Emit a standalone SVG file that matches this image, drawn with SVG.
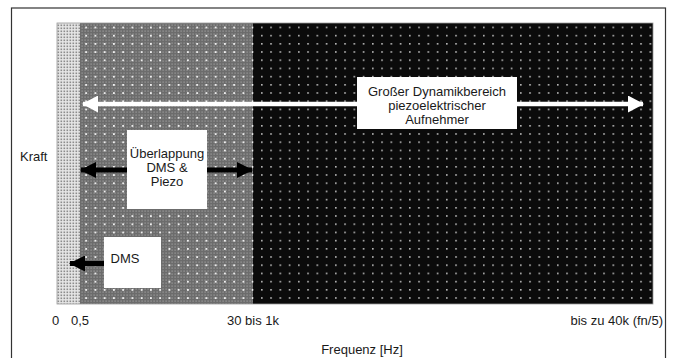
<svg xmlns="http://www.w3.org/2000/svg" width="674" height="358" viewBox="0 0 674 358">
<defs>
<pattern id="pLight" patternUnits="userSpaceOnUse" width="3" height="3">
<rect width="3" height="3" fill="#e6e6e6"/>
<rect x="0.5" y="0.5" width="1.6" height="1.6" fill="#8c8c8c"/>
</pattern>
<pattern id="pGrayFine" patternUnits="userSpaceOnUse" width="3" height="3">
<rect width="3" height="3" fill="#6c6c6c"/>
<rect x="0.5" y="0.5" width="1.2" height="1.2" fill="#a0a0a0"/>
</pattern>
<pattern id="pDotsW" patternUnits="userSpaceOnUse" x="2" y="2" width="9.25" height="8.2">
<rect x="0" y="0" width="1.8" height="1.8" fill="#f2f2f2"/>
</pattern>
<pattern id="pDotsB" patternUnits="userSpaceOnUse" x="2" y="2" width="9.25" height="8.2">
<rect width="9.25" height="8.2" fill="#0b0b0b"/>
<rect x="0" y="0" width="1.6" height="1.6" fill="#b8b8b8"/>
</pattern>
<marker id="hW" viewBox="0 0 16 17" refX="15" refY="8.5" markerWidth="16" markerHeight="17" markerUnits="userSpaceOnUse" orient="auto-start-reverse">
<path d="M0,0 L16,8.5 L0,17 Z" fill="#ffffff"/>
</marker>
<marker id="hB" viewBox="0 0 16 16" refX="15" refY="8" markerWidth="16" markerHeight="16" markerUnits="userSpaceOnUse" orient="auto-start-reverse">
<path d="M0,0 L16,8 L0,16 Z" fill="#000000"/>
</marker>
</defs>
<style>
.t{font-family:"Liberation Sans",Arial,sans-serif;font-size:13px;fill:#1a1a1a}
.c{text-anchor:middle}
.box{fill:#ffffff}
</style>
<rect width="674" height="358" fill="#ffffff"/>
<rect id="frame" x="11.5" y="8" width="654" height="360" fill="none" stroke="#333" stroke-width="1.2"/>

<g id="region-dms">
<rect x="57" y="23" width="23" height="281" fill="url(#pLight)"/>
</g>
<g id="region-overlap">
<rect x="80" y="23" width="173" height="281" fill="url(#pGrayFine)"/>
<rect x="80" y="23" width="173" height="281" fill="url(#pDotsW)"/>
</g>
<g id="region-piezo">
<rect x="253" y="23" width="400" height="281" fill="url(#pDotsB)"/>
</g>
<rect x="57" y="23" width="596" height="281" fill="none" stroke="#999" stroke-width="0.8"/>

<g id="connectors">
<line x1="83" y1="104" x2="643" y2="104" stroke="#ffffff" stroke-width="4.5" marker-start="url(#hW)" marker-end="url(#hW)"/>
<line x1="81" y1="170" x2="252" y2="170" stroke="#000" stroke-width="5" marker-start="url(#hB)" marker-end="url(#hB)"/>
<line x1="104" y1="263.5" x2="70" y2="263.5" stroke="#000" stroke-width="5" marker-end="url(#hB)"/>
</g>

<g id="box-piezo">
<rect class="box" x="357" y="77" width="160" height="52"/>
<text class="t c" x="437" y="95.5">Großer Dynamikbereich</text>
<text class="t c" x="437" y="109.5">piezoelektrischer</text>
<text class="t c" x="437" y="123.5">Aufnehmer</text>
</g>
<g id="box-overlap">
<rect class="box" x="127" y="130" width="80" height="79"/>
<text class="t c" x="167" y="158">Überlappung</text>
<text class="t c" x="167" y="172">DMS &amp;</text>
<text class="t c" x="167" y="186">Piezo</text>
</g>
<g id="box-dms">
<rect class="box" x="104" y="237" width="57" height="51"/>
<text class="t c" x="125" y="263">DMS</text>
</g>

<g id="axis-labels">
<text class="t" x="20" y="161">Kraft</text>
<text class="t c" x="55.5" y="325">0</text>
<text class="t c" x="80" y="325">0,5</text>
<text class="t c" x="253" y="325">30 bis 1k</text>
<text class="t" x="663" y="325" text-anchor="end">bis zu 40k (fn/5)</text>
<text class="t c" x="362" y="354">Frequenz [Hz]</text>
</g>
</svg>
